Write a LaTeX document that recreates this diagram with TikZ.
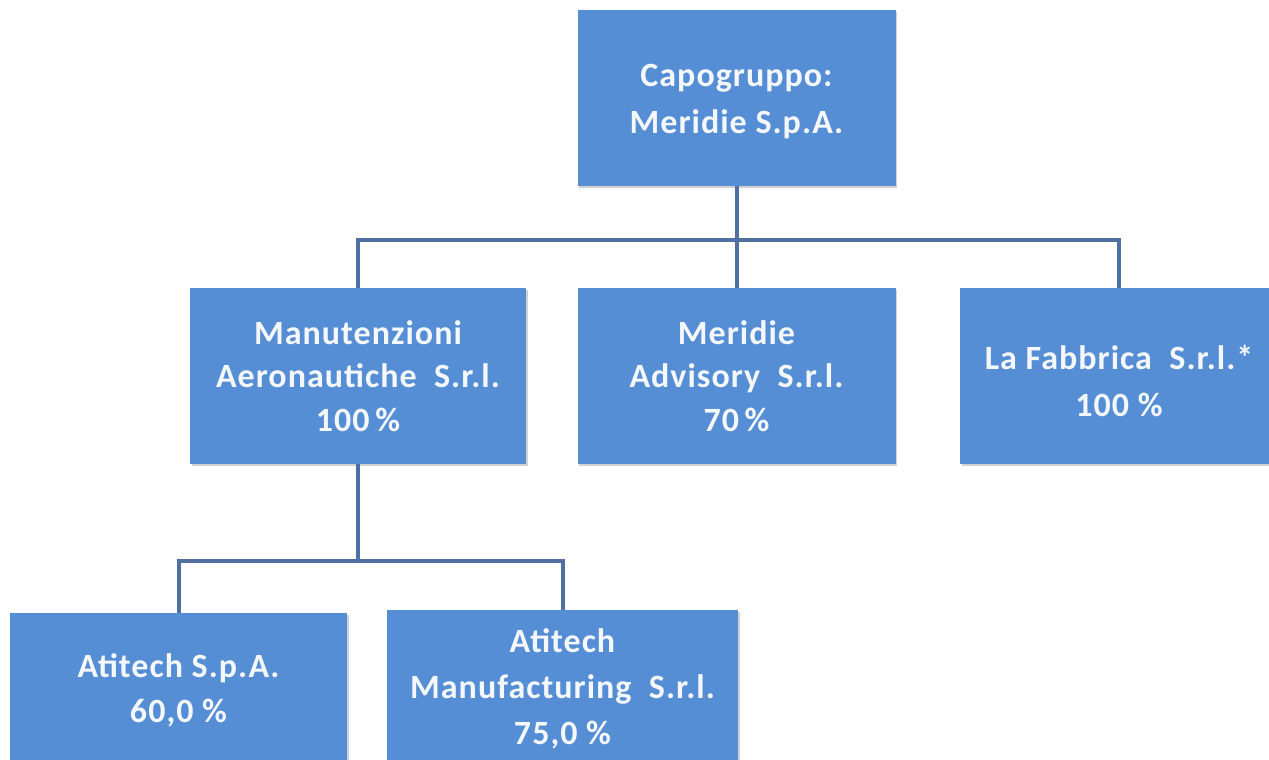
\documentclass[tikz,border=0pt]{standalone}
\usepackage{fontspec}
\setmainfont{Carlito}
\newfontfamily\boxfont[LetterSpace=3]{Carlito}
\usetikzlibrary{shadows}
\definecolor{boxblue}{HTML}{558ED5}
\definecolor{linkblue}{HTML}{4E6F9F}
\definecolor{txtwhite}{HTML}{F4F7FB}
\begin{document}
\begin{tikzpicture}[x=1pt,y=-1pt,
  box/.style={fill=boxblue, draw=none, inner sep=0pt,
    drop shadow={shadow xshift=1.5pt, shadow yshift=-2pt, opacity=0.3, fill=black!60}},
  txt/.style={text=txtwhite, align=center, font=\boxfont\bfseries\fontsize{34}{43.5}\selectfont},
  link/.style={draw=linkblue, line width=4pt}]
\useasboundingbox (0,0) rectangle (1269,760);
\clip (0,0) rectangle (1269,760);
% nodes
\node[box, minimum width=318pt, minimum height=176pt,
  label={[txt, yshift=-4pt]center:Capogruppo:\\[3.5pt]Meridie S.p.A.}] (top) at (736.5,98) {};
\node[box, minimum width=336pt, minimum height=176pt,
  label={[txt, yshift=0pt]center:Manutenzioni\\Aeronautiche\ \ S.r.l.\\100\,\%}] (ml) at (358,376) {};
\node[box, minimum width=318pt, minimum height=176pt,
  label={[txt, yshift=0pt]center:Meridie\\Advisory\ \ S.r.l.\\70\,\%}] (mm) at (736.5,376) {};
\node[box, minimum width=318pt, minimum height=176pt,
  label={[txt, yshift=-5pt]center:La Fabbrica\ \ S.r.l.*\\[3.5pt]100 \%}] (mr) at (1119,376) {};
\node[box, minimum width=337pt, minimum height=176pt,
  label={[txt, yshift=11pt]center:Atitech S.p.A.\\[1.5pt]60,0 \%}] (bl) at (178.5,701) {};
\node[box, minimum width=351pt, minimum height=176pt,
  label={[txt, yshift=9pt]center:Atitech\\[2.5pt]Manufacturing\ \ S.r.l.\\[2.5pt]75,0 \%}] (br) at (562.5,698) {};
% connectors
\coordinate (bus) at (736.5,240);
\coordinate (bus2) at (358,561);
\draw[link] (top.south) -- (bus);
\draw[link] (bus) -- (mm.north);
\draw[link] (ml.north) |- (bus) -| (mr.north);
\draw[link] (ml.south) -- (bus2);
\draw[link] (bl.north) |- (bus2) -| (br.north);
\end{tikzpicture}
\end{document}
